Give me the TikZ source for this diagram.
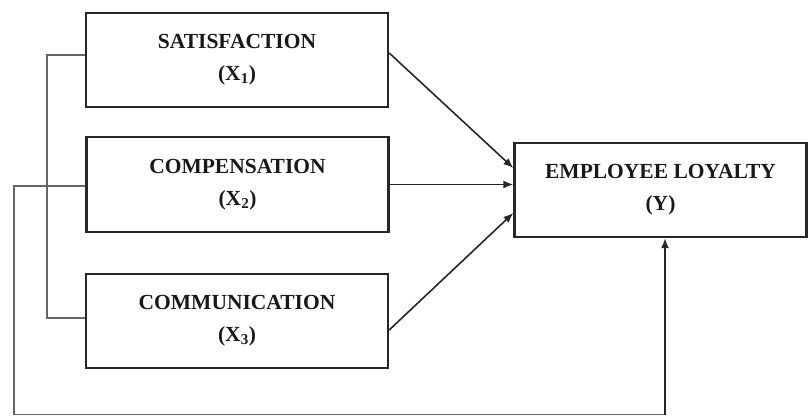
\documentclass[tikz,border=0pt]{standalone}
\usepackage{fontspec}
\setmainfont{Liberation Serif}
\usetikzlibrary{arrows.meta,calc}
\begin{document}
\begin{tikzpicture}[x=1pt,y=-1pt,
  varbox/.style={draw=black!85, line width=2.4pt, fill=white, minimum width=302pt, minimum height=94pt,
    align=center, inner sep=0pt, font=\fontsize{21.5}{32}\selectfont\bfseries, text=black!90},
  conn/.style={draw=black!85, line width=1.6pt},
  thin/.style={draw=black!60, line width=1.4pt},
  tip/.style={-{Latex[length=10pt,width=8pt]}}
]
\useasboundingbox (0,0) rectangle (808,417);
\node[varbox] (X1) at (237,60) {SATISFACTION\\(X\textsubscript{1})};
\node[varbox, minimum height=95pt] (X2) at (237.5,184.5) {COMPENSATION\\(X\textsubscript{2})};
\node[varbox] (X3) at (237,321) {COMMUNICATION\\(X\textsubscript{3})};
\node[varbox, minimum width=292pt] (Y) at (660.5,190) {EMPLOYEE LOYALTY\\(Y)};
\coordinate (b1) at (47,55);
\coordinate (b2) at (47,318);
\coordinate (o1) at (14,186);
\coordinate (o2) at (14,414.5);
\coordinate (o3) at (665,414.5);
% arrows into Y
\draw[conn,tip] ([yshift=7pt]X1.east) -- ([yshift=22pt]Y.west);
\draw[conn,tip] (X2.east) -- (X2.east -| Y.west);
\draw[conn,tip] ([yshift=-9pt]X3.east) -- ([yshift=-23pt]Y.west);
% bracket linking X1 and X3
\draw[thin] (X1.west |- b1) -- (b1) -- (b2) -- (X3.west |- b2);
% outer loop from X2 to Y
\draw[thin] (X2.west |- o1) -- (o1) -- (o2) -- (o3);
\draw[conn,tip] (o3) -- (Y.south -| o3);
\end{tikzpicture}
\end{document}
